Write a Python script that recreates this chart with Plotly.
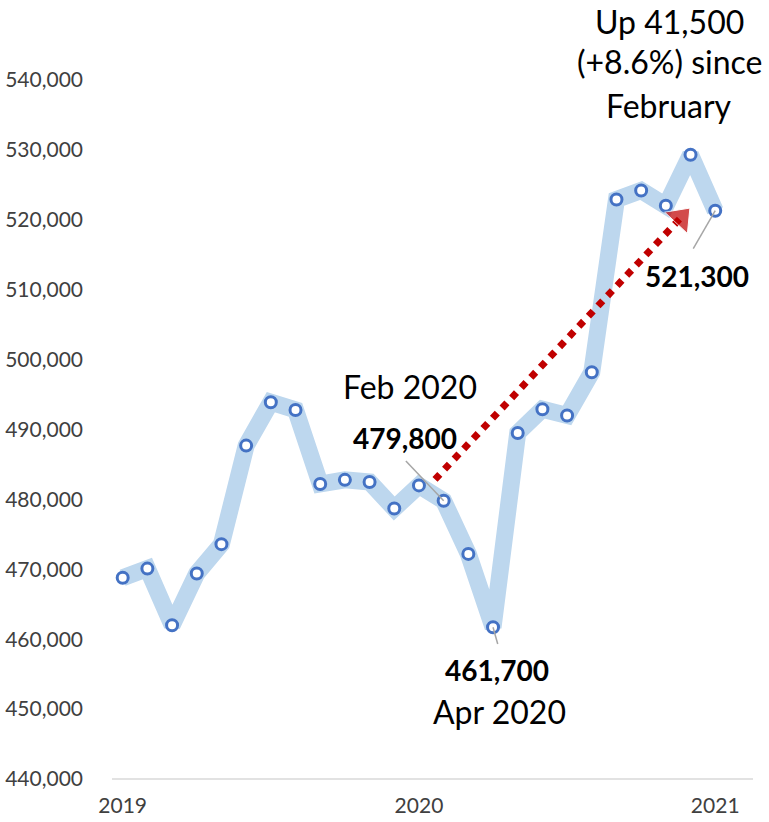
"""Monthly total with Feb-2020 to Dec-2020 recovery callout."""

import plotly.graph_objects as go

FONT = "Lato"

months = [
    "Jan 2019", "Feb 2019", "Mar 2019", "Apr 2019", "May 2019", "Jun 2019",
    "Jul 2019", "Aug 2019", "Sep 2019", "Oct 2019", "Nov 2019", "Dec 2019",
    "Jan 2020", "Feb 2020", "Mar 2020", "Apr 2020", "May 2020", "Jun 2020",
    "Jul 2020", "Aug 2020", "Sep 2020", "Oct 2020", "Nov 2020", "Dec 2020",
    "Jan 2021",
]
values = [
    468800, 470100, 462000, 469400, 473600, 487700,
    493900, 492800, 482200, 482800, 482500, 478700,
    482000, 479800, 472200, 461700, 489500, 492900,
    492000, 498200, 522900, 524200, 522000, 529300,
    521300,
]
year_ticks = ["Jan 2019", "Jan 2020", "Jan 2021"]
year_labels = ["2019", "2020", "2021"]
headline = ["Up 41,500", "(+8.6%) since", "February"]

X_RANGE = [-0.433, 25.53]

fig = go.Figure()

fig.add_trace(
    go.Scatter(
        x=months,
        y=values,
        mode="lines+markers",
        line=dict(color="#BDD7EE", width=17),
        marker=dict(size=11, color="white", line=dict(color="#4472C4", width=3)),
        hoverinfo="x+y",
        showlegend=False,
    )
)

# dotted red arrow from the February level to the latest level
# (drawn on a hidden linear x axis that lines up with the category axis)
fig.add_trace(
    go.Scatter(
        x=[12.65, 22.60],
        y=[482860, 520270],
        xaxis="x2",
        mode="lines+markers",
        line=dict(color="#C00000", width=7, dash="dot"),
        marker=dict(
            symbol="triangle-up",
            size=[0, 27],
            color="#C00000",
            angleref="previous",
        ),
        hoverinfo="skip",
        showlegend=False,
    )
)

# thin grey leader lines for the callouts
leaders = [
    (13, 479800, 11.47, 485500),
    (15, 461700, 15.19, 459310),
    (24, 521300, 23.11, 515880),
]
for x0, y0, x1, y1 in leaders:
    fig.add_shape(
        type="line", xref="x2", yref="y", x0=x0, y0=y0, x1=x1, y1=y1,
        line=dict(color="#A6A6A6", width=1.5),
    )

# light axis baseline at the bottom of the plot
fig.add_shape(
    type="line", xref="paper", yref="paper", x0=0, x1=1, y0=0, y1=0,
    line=dict(color="#D9D9D9", width=1.5), layer="below",
)

bold = dict(family=FONT, size=28, color="black")
plain = dict(family=FONT, size=32, color="black")

fig.add_annotation(x=11.64, xref="x2", y=496220, text="Feb 2020", showarrow=False, font=plain)
fig.add_annotation(x=11.43, xref="x2", y=488780, text="<b>479,800</b>", showarrow=False, font=bold)
fig.add_annotation(x=15.16, xref="x2", y=455590, text="<b>461,700</b>", showarrow=False, font=bold)
fig.add_annotation(x=15.28, xref="x2", y=449590, text="Apr 2020", showarrow=False, font=plain)
fig.add_annotation(x=23.26, xref="x2", y=511960, text="<b>521,300</b>", showarrow=False, font=bold)
for line_text, y_paper in zip(headline, [1.0843, 1.0258, 0.9642]):
    fig.add_annotation(
        x=22.13, xref="x2", y=y_paper, yref="paper", yanchor="middle",
        text=line_text, showarrow=False, font=plain, borderpad=0,
    )

fig.update_layout(
    width=769,
    height=822,
    margin=dict(l=112, r=16, t=80, b=43),
    paper_bgcolor="white",
    plot_bgcolor="white",
    font=dict(family=FONT, color="#404040"),
    xaxis=dict(
        type="category",
        range=X_RANGE,
        tickmode="array",
        tickvals=year_ticks,
        ticktext=year_labels,
        tickfont=dict(size=21, color="#404040"),
        showgrid=False,
        zeroline=False,
        showline=False,
        ticks="",
        ticklabelstandoff=12,
        automargin=False,
    ),
    xaxis2=dict(
        type="linear",
        overlaying="x",
        range=X_RANGE,
        visible=False,
    ),
    yaxis=dict(
        range=[440000, 540000],
        tickmode="linear",
        tick0=440000,
        dtick=10000,
        tickformat=",d",
        tickfont=dict(size=21, color="#404040"),
        showgrid=False,
        zeroline=False,
        showline=False,
        ticks="",
        ticklabelstandoff=28,
        automargin=False,
    ),
)

# the page's default body margin would push the figure off the window
fig.write_html(
    "out.html",
    config={"displayModeBar": False},
    post_script="document.body.style.margin='0';",
)
